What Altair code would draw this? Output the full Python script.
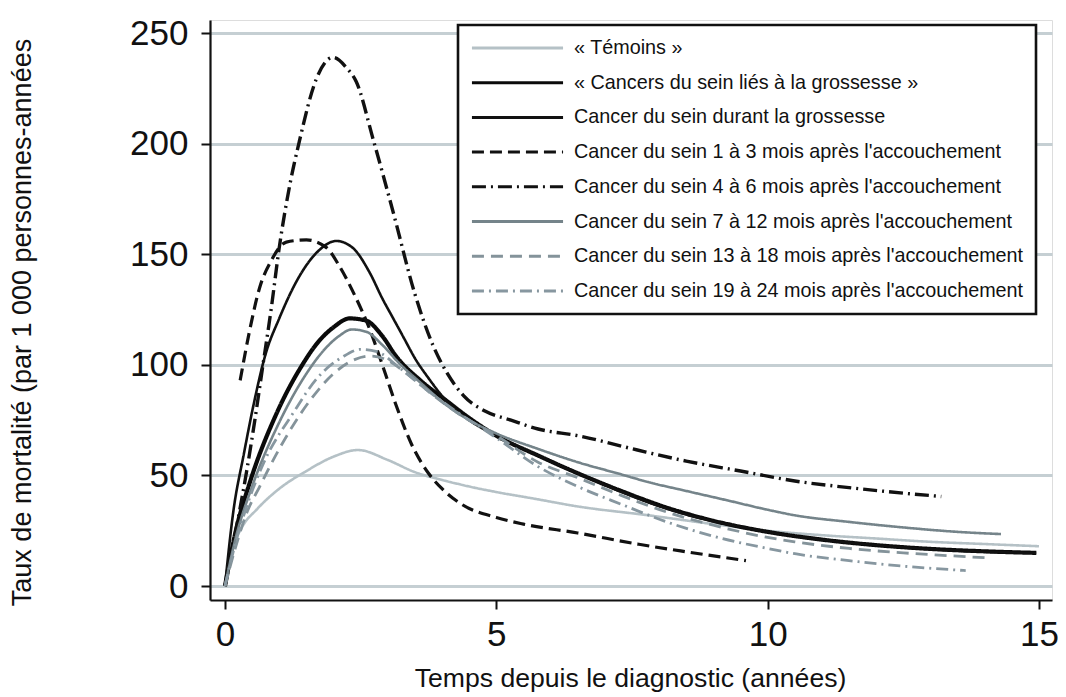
import altair as alt
import pandas as pd

# ---- series names (legend order) ----
series_names = [
    "« Témoins »",
    "« Cancers du sein liés à la grossesse »",
    "Cancer du sein durant la grossesse",
    "Cancer du sein 1 à 3 mois après l'accouchement",
    "Cancer du sein 4 à 6 mois après l'accouchement",
    "Cancer du sein 7 à 12 mois après l'accouchement",
    "Cancer du sein 13 à 18 mois après l'accouchement",
    "Cancer du sein 19 à 24 mois après l'accouchement",
]

# ---- values (years, rate per 1000 person-years) ----
temoins_x = [0, 0.1, 0.3, 0.6, 1.0, 1.5, 2.0, 2.45, 3.0, 3.5, 4.0, 4.5, 5.0, 5.7, 6.5, 7.8, 9.0, 10.0, 11.0, 12.0, 13.0, 14.0, 15.0]
temoins_y = [0, 14, 26, 35, 44, 52, 58.5, 61.5, 57, 51.5, 48, 45, 42.5, 39.5, 36, 32, 28, 25, 23, 21.5, 20, 19, 18]

lies_x = [0, 0.2, 0.46, 0.95, 1.4, 1.74, 2.0, 2.3, 2.6, 2.9, 3.15, 3.6, 4.07, 4.5, 5.0, 5.77, 6.5, 7.3, 8.2, 9.0, 10.0, 11.0, 12.0, 13.0, 14.0, 14.95]
lies_y = [0, 25, 47, 78, 99, 111, 117, 121, 120, 113, 104, 93, 84, 76, 68, 59, 51, 43, 35, 29.5, 24.5, 21, 18.5, 16.8, 15.7, 15]

durant_x = [0, 0.15, 0.35, 0.51, 0.75, 1.0, 1.37, 1.7, 2.05, 2.35, 2.66, 2.9, 3.1, 3.3, 3.5, 3.75, 4.07, 4.5, 5.0, 5.77, 6.5, 8.2, 10.0, 12.0, 14.0, 14.95]
durant_y = [0, 33, 60, 80, 105, 121, 140, 151, 156, 153, 142, 130, 121, 112, 103, 94, 84, 75, 68, 59, 51, 34.5, 24.5, 18.5, 15.5, 15]

m1_3_x = [0.28, 0.45, 0.64, 0.85, 1.13, 1.5, 1.87, 2.1, 2.34, 2.7, 2.9, 3.15, 3.44, 3.75, 4.0, 4.36, 5.0, 5.5, 6.5, 7.6, 8.5, 9.6]
m1_3_y = [93, 115, 135, 147, 155.5, 156.5, 153, 145, 134, 114, 100, 82, 64, 51, 44, 37, 31, 28, 24, 19, 15.5, 11.5]

m4_6_x = [0, 0.2, 0.4, 0.55, 0.7, 0.85, 1.0, 1.2, 1.37, 1.68, 1.99, 2.25, 2.42, 2.73, 3.1, 3.5, 3.83, 4.1, 4.4, 4.8, 5.27, 5.77, 6.5, 7.6, 8.5, 9.5, 10.5, 11.5, 12.5, 13.2]
m4_6_y = [0, 25, 52, 75, 100, 125, 153, 182, 201, 229, 239, 234, 228, 202, 169, 132, 109, 96, 86, 79, 75, 71, 68, 61.5, 56.5, 52, 47.5, 44.5, 42, 40.5]

m7_12_x = [0, 0.2, 0.5, 1.0, 1.5, 1.8, 2.1, 2.34, 2.6, 2.9, 3.2, 3.6, 4.07, 4.5, 5.0, 5.77, 6.5, 7.3, 7.8, 8.5, 9.3, 10.0, 10.5, 11.5, 12.5, 13.5, 14.3]
m7_12_y = [0, 22, 45, 74, 96, 106, 113, 116, 115, 109, 101, 92, 82, 75, 69, 62, 56, 50.5, 47, 43, 38.5, 34.5, 32, 29, 26.5, 24.5, 23.5]

m13_18_x = [0, 0.2, 0.4, 0.64, 1.0, 1.57, 2.0, 2.4, 2.7, 3.0, 3.4, 3.8, 4.3, 5.0, 5.77, 6.5, 7.3, 8.2, 9.0, 10.0, 10.5, 11.5, 12.5, 13.5, 14.1]
m13_18_y = [0, 18, 33, 45, 62, 84, 96, 102.5, 104, 102, 95, 87, 78, 68, 56, 49, 41, 33, 27.5, 22, 20, 17, 15, 13.5, 12.7]

m19_24_x = [0, 0.2, 0.4, 0.7, 1.25, 1.7, 2.16, 2.5, 2.8, 3.2, 3.7, 4.2, 5.0, 5.77, 6.5, 7.3, 8.2, 9.0, 10.0, 10.53, 11.5, 12.5, 13.65]
m19_24_y = [0, 20, 36, 55, 78, 94, 103.5, 107, 106, 99, 89, 80, 67, 54, 45, 37, 28.5, 22.5, 17, 14.5, 11.5, 9, 7]

series_x = [temoins_x, lies_x, durant_x, m1_3_x, m4_6_x, m7_12_x, m13_18_x, m19_24_x]
series_y = [temoins_y, lies_y, durant_y, m1_3_y, m4_6_y, m7_12_y, m13_18_y, m19_24_y]

# ---- styles ----
colors = ["#b5c1c6", "#0a0a0a", "#111111", "#111111", "#111111", "#75848a", "#84939a", "#8797a0"]
dashes = [[1, 0], [1, 0], [1, 0], [12, 6], [14, 5, 2, 5], [1, 0], [12, 7], [12, 5, 2, 5]]
widths = [2.6, 4.2, 2.6, 3.2, 3.4, 2.6, 2.8, 2.8]

rows = []
for name, xs, ys, w in zip(series_names, series_x, series_y, widths):
    for xv, yv in zip(xs, ys):
        rows.append({"serie": name, "t": xv, "taux": yv, "w": w})
df = pd.DataFrame(rows)

FONT = "Liberation Sans, Arial, Helvetica, sans-serif"

legend = alt.Legend(
    title=None,
    orient="none",
    legendX=248,
    legendY=5,
    symbolType="stroke",
    symbolSize=8300,
    symbolStrokeWidth=3,
    clipHeight=22,
    labelFont=FONT,
    labelFontSize=19.8,
    labelColor="#111111",
    labelLimit=0,
    labelOffset=9,
    rowPadding=12.7,
    padding=12,
    fillColor="white",
    strokeColor="#111111",
)

chart = alt.Chart(df).mark_line(interpolate="monotone").encode(
    x=alt.X(
        "t:Q",
        scale=alt.Scale(domain=[-0.276, 15.24], nice=False, zero=False),
        axis=alt.Axis(
            values=[0, 5, 10, 15], grid=False, title="Temps depuis le diagnostic (années)",
            labelFont=FONT, labelFontSize=35, labelColor="#111111", labelPadding=8,
            tickSize=9, tickWidth=2, tickColor="#111111",
            domainColor="#111111", domainWidth=2.2,
            titleFont=FONT, titleFontSize=26.6, titleFontWeight="normal", titleColor="#111111",
            titleX=420, titleY=86, titleBaseline="alphabetic", titleAlign="center",
        ),
    ),
    y=alt.Y(
        "taux:Q",
        scale=alt.Scale(domain=[-6.3, 255.9], nice=False, zero=False),
        axis=alt.Axis(
            values=[0, 50, 100, 150, 200, 250], grid=True, gridColor="#c5cfd3", gridWidth=2.8,
            title="Taux de mortalité (par 1 000 personnes-années",
            labelFont=FONT, labelFontSize=35, labelColor="#111111", labelPadding=13,
            tickSize=9, tickWidth=2, tickColor="#111111",
            domainColor="#111111", domainWidth=2.2,
            titleFont=FONT, titleFontSize=27, titleFontWeight="normal", titleColor="#111111",
            titleX=-188, titleY=302, titleAngle=270, titleBaseline="middle", titleAlign="center",
        ),
    ),
    color=alt.Color("serie:N", scale=alt.Scale(domain=series_names, range=colors), legend=legend),
    strokeDash=alt.StrokeDash("serie:N", scale=alt.Scale(domain=series_names, range=dashes), legend=legend),
    strokeWidth=alt.StrokeWidth("w:Q", scale=None),
).properties(
    width=842,
    height=580,
    padding={"left": 202, "top": 12, "right": 6, "bottom": 92},
    autosize=alt.AutoSizeParams(type="none"),
).configure_view(stroke=None).configure(background="white").configure_legend(strokeWidth=2.6)

chart.save("out.html", embed_options={"renderer": "svg", "actions": False})
